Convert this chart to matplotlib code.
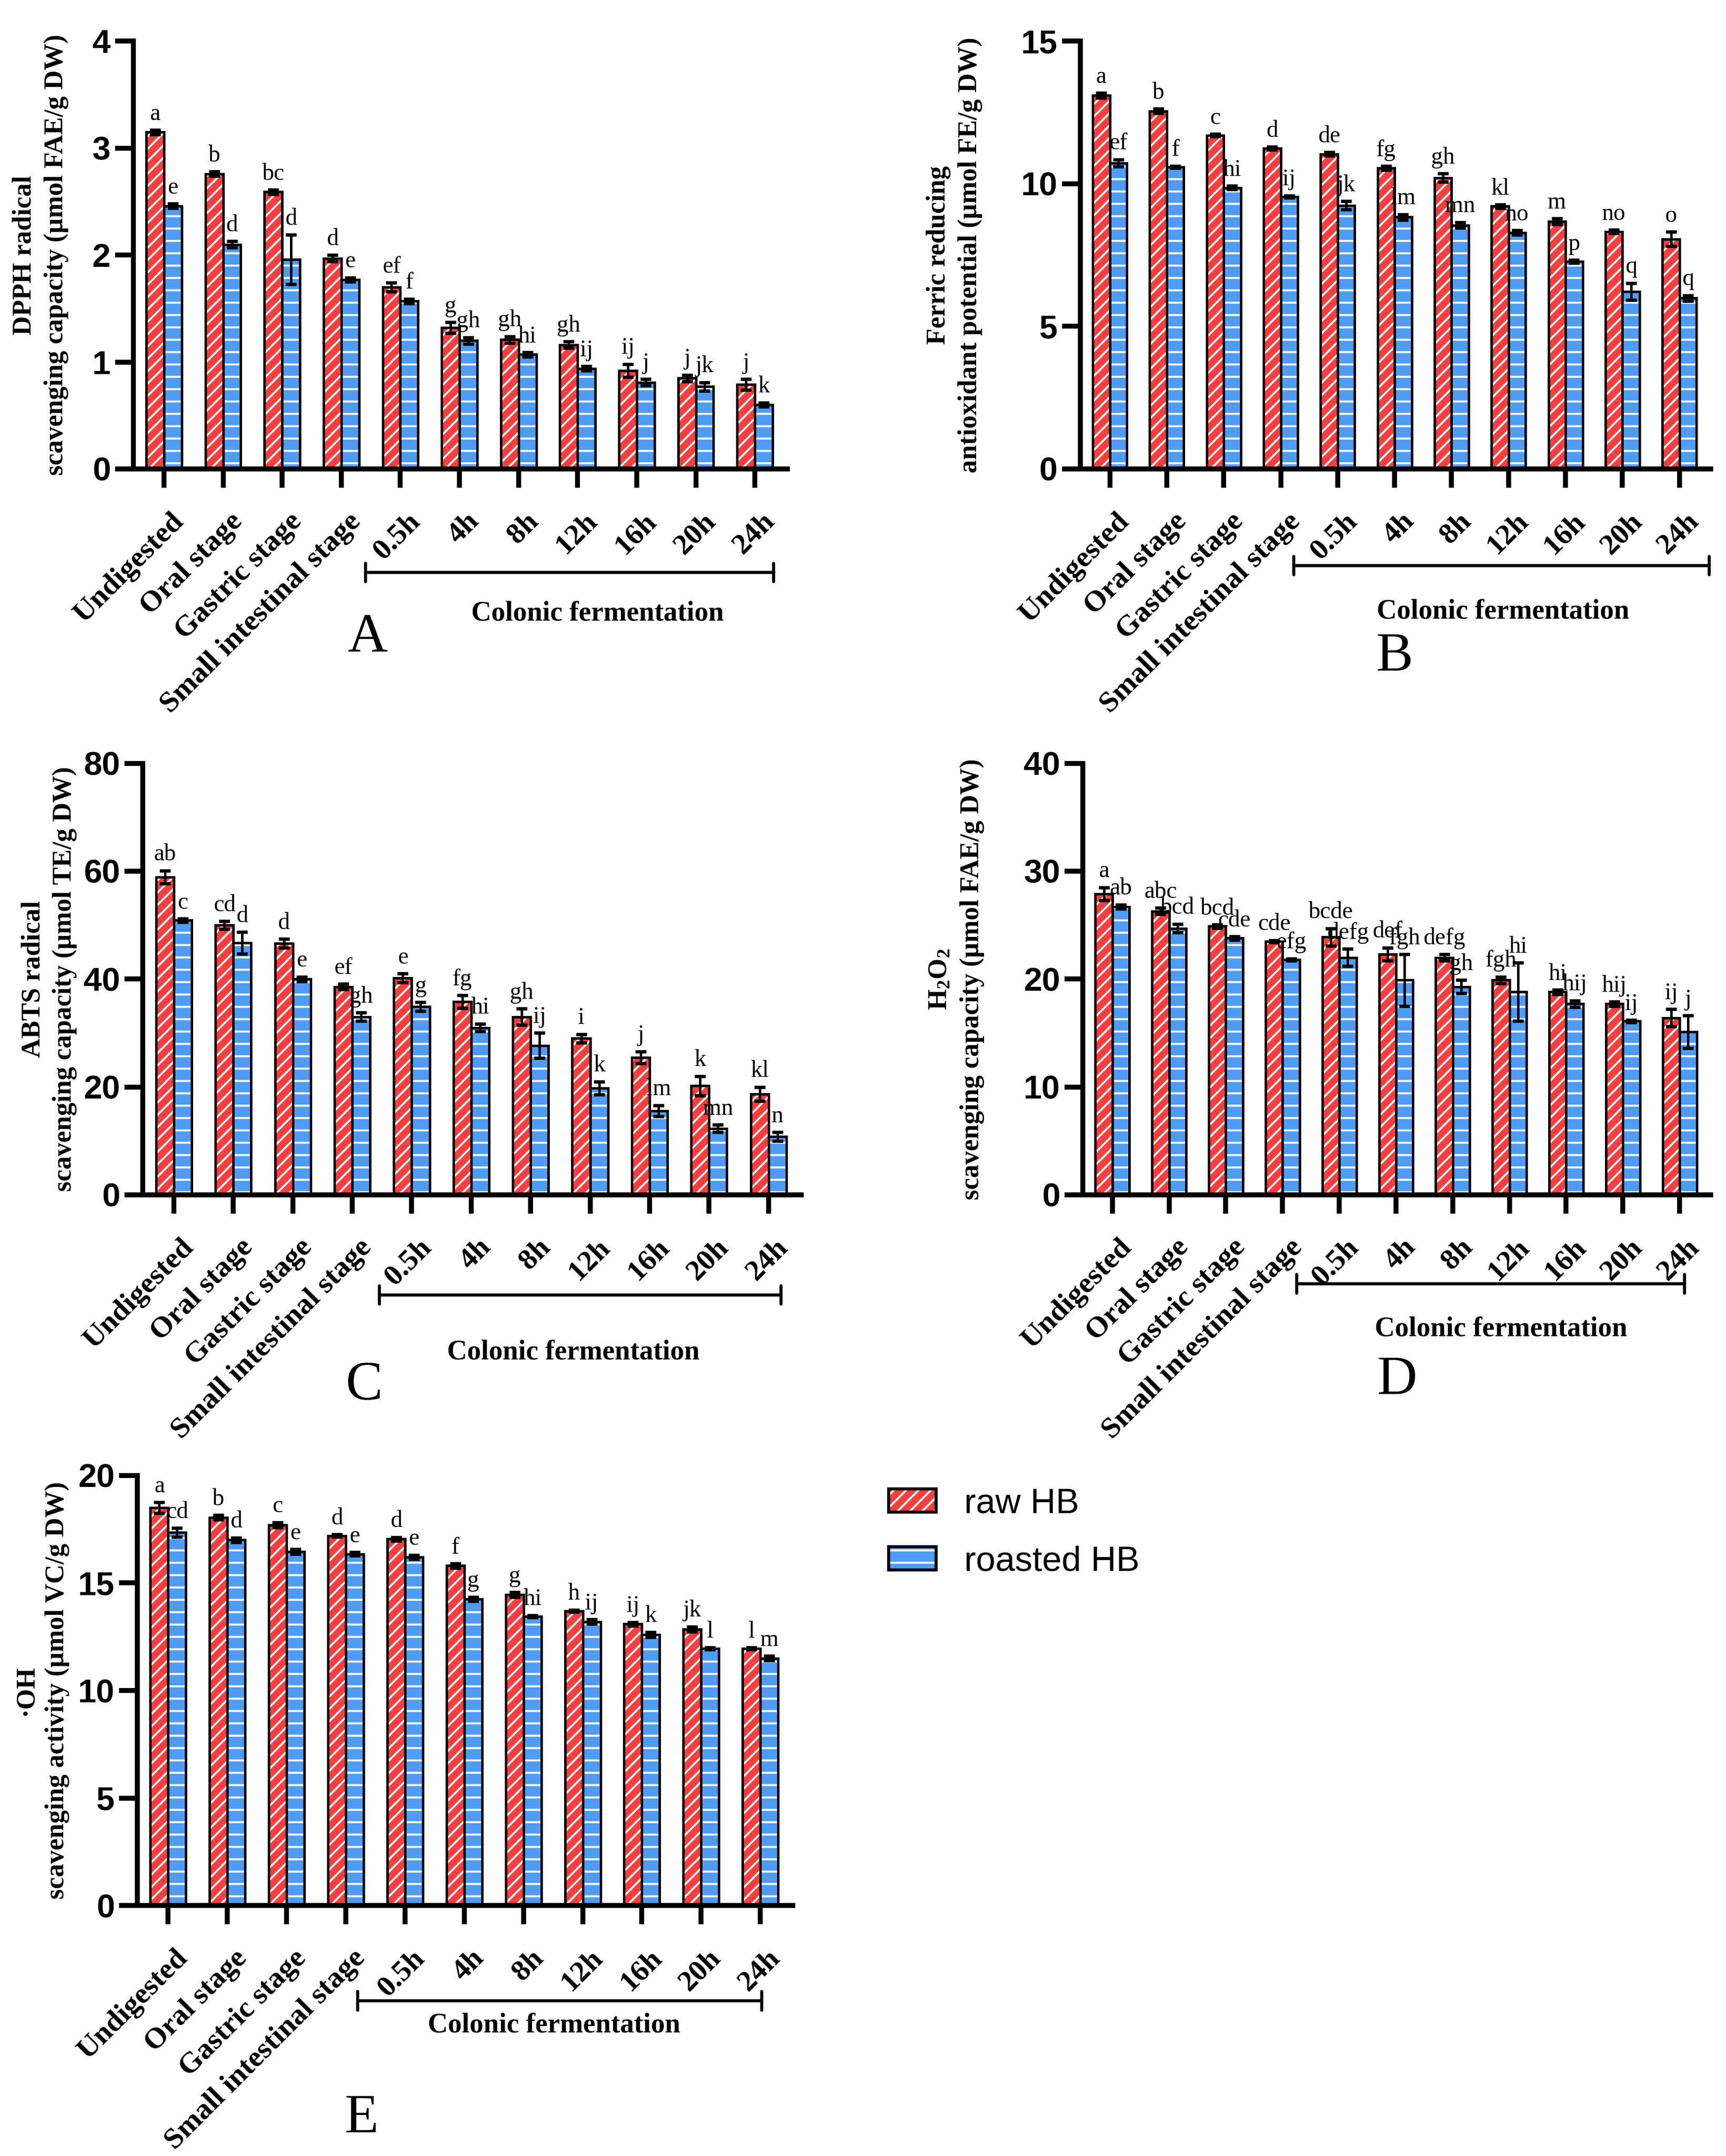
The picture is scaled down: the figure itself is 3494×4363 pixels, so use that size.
import matplotlib
matplotlib.use("Agg")
import matplotlib.pyplot as plt
import matplotlib.transforms as mtransforms
from matplotlib.patches import Patch
from matplotlib.legend_handler import HandlerTuple
import numpy as np

plt.rcParams['hatch.color'] = 'white'
plt.rcParams['hatch.linewidth'] = 0.95
plt.rcParams['mathtext.fontset'] = 'custom'
plt.rcParams['mathtext.rm'] = 'Liberation Serif'
plt.rcParams['mathtext.bf'] = 'Liberation Serif:bold'

RED = '#F83F3F'
BLUE = '#4F9CF6'
SERIF = 'Liberation Serif'
SANS = 'Liberation Sans'

stages = ["Undigested", "Oral stage", "Gastric stage", "Small intestinal stage",
          "0.5h", "4h", "8h", "12h", "16h", "20h", "24h"]

# A - DPPH
dpph_raw = [3.15, 2.76, 2.59, 1.97, 1.70, 1.32, 1.21, 1.16, 0.92, 0.85, 0.79]
dpph_raw_err = [0.02, 0.02, 0.02, 0.03, 0.04, 0.05, 0.03, 0.03, 0.06, 0.03, 0.05]
dpph_roast = [2.46, 2.10, 1.96, 1.77, 1.57, 1.20, 1.07, 0.94, 0.81, 0.77, 0.60]
dpph_roast_err = [0.02, 0.03, 0.23, 0.02, 0.02, 0.03, 0.02, 0.02, 0.03, 0.04, 0.02]
dpph_raw_let = ["a", "b", "bc", "d", "ef", "g", "gh", "gh", "ij", "j", "j"]
dpph_roast_let = ["e", "d", "d", "e", "f", "gh", "hi", "ij", "j", "jk", "k"]

# B - FRAP
frap_raw = [13.1, 12.55, 11.70, 11.24, 11.04, 10.55, 10.21, 9.21, 8.68, 8.32, 8.06]
frap_raw_err = [0.08, 0.08, 0.04, 0.05, 0.06, 0.07, 0.15, 0.06, 0.10, 0.06, 0.25]
frap_roast = [10.73, 10.59, 9.86, 9.55, 9.24, 8.83, 8.55, 8.29, 7.28, 6.22, 5.99]
frap_roast_err = [0.12, 0.04, 0.06, 0.04, 0.15, 0.10, 0.10, 0.08, 0.05, 0.30, 0.10]
frap_raw_let = ["a", "b", "c", "d", "de", "fg", "gh", "kl", "m", "no", "o"]
frap_roast_let = ["ef", "f", "hi", "ij", "jk", "lm", "mn", "no", "p", "q", "q"]

# C - ABTS
abts_raw = [58.9, 50.0, 46.6, 38.6, 40.2, 35.8, 33.0, 29.0, 25.5, 20.2, 18.7]
abts_raw_err = [1.2, 0.7, 0.8, 0.5, 0.8, 1.2, 1.5, 0.8, 1.1, 1.8, 1.3]
abts_roast = [50.9, 46.7, 40.0, 33.0, 34.9, 31.0, 27.7, 19.8, 15.6, 12.3, 10.8]
abts_roast_err = [0.3, 2.0, 0.4, 0.8, 0.8, 0.7, 2.3, 1.2, 1.0, 0.7, 0.8]
abts_raw_let = ["ab", "cd", "d", "ef", "e", "fg", "gh", "i", "j", "k", "kl"]
abts_roast_let = ["c", "d", "e", "gh", "g", "hi", "ij", "k", "lm", "mn", "n"]

# D - H2O2
h2o2_raw = [27.9, 26.3, 24.9, 23.5, 23.9, 22.3, 22.0, 19.9, 18.8, 17.7, 16.4]
h2o2_raw_err = [0.6, 0.3, 0.15, 0.1, 0.8, 0.6, 0.3, 0.3, 0.2, 0.2, 0.8]
h2o2_roast = [26.7, 24.7, 23.8, 21.8, 22.0, 19.9, 19.3, 18.8, 17.7, 16.1, 15.1]
h2o2_roast_err = [0.2, 0.4, 0.15, 0.1, 0.8, 2.4, 0.6, 2.7, 0.3, 0.1, 1.5]
h2o2_raw_let = ["a", "abc", "bcd", "cde", "bcde", "def", "defg", "fgh", "hi", "hij", "ij"]
h2o2_roast_let = ["ab", "bcd", "cde", "efg", "defg", "fgh", "gh", "hi", "hij", "ij", "j"]

# E - OH
oh_raw = [18.5, 18.05, 17.7, 17.2, 17.05, 15.8, 14.45, 13.7, 13.1, 12.85, 11.95]
oh_raw_err = [0.25, 0.1, 0.12, 0.05, 0.08, 0.1, 0.12, 0.05, 0.08, 0.12, 0.05]
oh_roast = [17.35, 17.0, 16.45, 16.35, 16.2, 14.25, 13.45, 13.2, 12.6, 11.95, 11.5]
oh_roast_err = [0.2, 0.1, 0.12, 0.08, 0.1, 0.1, 0.05, 0.1, 0.12, 0.05, 0.1]
oh_raw_let = ["a", "b", "c", "d", "d", "f", "g", "h", "ij", "jk", "l"]
oh_roast_let = ["cd", "d", "e", "e", "e", "g", "hi", "ij", "k", "l", "m"]


def graficarPanel(fig, pos, raw, raw_err, roast, roast_err, raw_let, roast_let,
                  ymax, ystep, ylabel, lab_x, bracket, colonic, letter):
    ax = fig.add_axes(pos)
    x = np.arange(len(stages))
    w = 0.3

    # fill with white hatch first, then the black outline on top
    ax.bar(x - w/2, raw, w, color=RED, hatch='////', linewidth=0, zorder=2)
    ax.bar(x - w/2, raw, w, fill=False, edgecolor='black', linewidth=1.2, zorder=3)
    ax.bar(x + w/2, roast, w, color=BLUE, hatch='--', linewidth=0, zorder=2)
    ax.bar(x + w/2, roast, w, fill=False, edgecolor='black', linewidth=1.2, zorder=3)

    ax.errorbar(x - w/2, raw, yerr=raw_err, fmt='none', ecolor='black',
                elinewidth=1.2, capsize=2.7, capthick=1.6, zorder=4)
    ax.errorbar(x + w/2, roast, yerr=roast_err, fmt='none', ecolor='black',
                elinewidth=1.2, capsize=2.7, capthick=1.6, zorder=4)

    for i in range(len(stages)):
        ax.annotate(raw_let[i], (x[i] - w/2, raw[i] + raw_err[i]), xytext=(0, 2.5),
                    textcoords='offset points', ha='center', va='bottom',
                    fontsize=11.5, family=SERIF, annotation_clip=False)
        ax.annotate(roast_let[i], (x[i] + w/2, roast[i] + roast_err[i]), xytext=(0, 2.5),
                    textcoords='offset points', ha='center', va='bottom',
                    fontsize=11.5, family=SERIF, annotation_clip=False)

    ax.set_xlim(-0.52, 10.55)
    ax.set_ylim(0, ymax)
    ax.set_yticks(np.arange(0, ymax + ystep/2, ystep))
    ax.spines[['top', 'right']].set_visible(False)
    for s in ['left', 'bottom']:
        ax.spines[s].set_linewidth(2.4)
    ax.tick_params(axis='both', direction='out', width=2.4, length=9)
    ax.tick_params(axis='y', pad=2, labelsize=16)
    for lab in ax.get_yticklabels():
        lab.set_fontfamily(SANS)
        lab.set_fontweight('bold')

    ax.set_xticks(x)
    ax.set_xticklabels(stages, rotation=45, ha='right', va='top', rotation_mode='anchor',
                       fontsize=14.5, fontweight='bold', family=SERIF)
    ax.tick_params(axis='x', pad=10)
    offset = mtransforms.ScaledTranslation(3/72, 0, fig.dpi_scale_trans)
    for lab in ax.get_xticklabels():
        lab.set_transform(lab.get_transform() + offset)

    ax.set_ylabel(ylabel, fontsize=13, fontweight='bold', family=SERIF, linespacing=1.35)
    ax.yaxis.set_label_coords(lab_x, 0.5)

    trans = mtransforms.blended_transform_factory(ax.transData, ax.transAxes)
    b0, b1, by = bracket
    ax.annotate('', xy=(b1, by), xytext=(b0, by), xycoords=trans, textcoords=trans,
                arrowprops=dict(arrowstyle='|-|, widthA=0.45, widthB=0.45', lw=1.5,
                                color='black', shrinkA=0, shrinkB=0),
                annotation_clip=False)
    ax.text(colonic[0], colonic[1], 'Colonic fermentation', transform=trans,
            ha='center', va='center', fontsize=13.5, fontweight='bold', family=SERIF)
    ax.text(letter[1], letter[2], letter[0], transform=trans,
            ha='center', va='center', fontsize=27, family=SERIF)
    return ax


fig = plt.figure(figsize=(3494/300, 4363/300))

graficarPanel(fig, [0.0772, 0.7825, 0.3790, 0.1984],
              dpph_raw, dpph_raw_err, dpph_roast, dpph_roast_err, dpph_raw_let, dpph_roast_let,
              4, 1, "DPPH radical\nscavenging capacity (µmol FAE/g DW)", -0.099,
              (3.41, 10.32, -0.242), (7.34, -0.338), ("A", 3.45, -0.397))
graficarPanel(fig, [0.6258, 0.7825, 0.3654, 0.1984],
              frap_raw, frap_raw_err, frap_roast, frap_roast_err, frap_raw_let, frap_roast_let,
              15, 5, "Ferric reducing\nantioxidant potential (µmol FE/g DW)", -0.155,
              (3.23, 10.52, -0.226), (6.9, -0.333), ("B", 5.0, -0.44))
graficarPanel(fig, [0.0828, 0.4458, 0.3814, 0.2002],
              abts_raw, abts_raw_err, abts_roast, abts_roast_err, abts_raw_let, abts_roast_let,
              80, 20, "ABTS radical\nscavenging capacity (µmol TE/g DW)", -0.100,
              (3.46, 10.21, -0.232), (6.72, -0.365), ("C", 3.2, -0.443))
graficarPanel(fig, [0.6274, 0.4458, 0.3638, 0.2002],
              h2o2_raw, h2o2_raw_err, h2o2_roast, h2o2_roast_err, h2o2_raw_let, h2o2_roast_let,
              40, 10, r"$\mathbf{H_2O_2}$" + "\nscavenging capacity (µmol FAE/g DW)", -0.157,
              (3.25, 10.09, -0.206), (6.85, -0.311), ("D", 5.02, -0.43))
graficarPanel(fig, [0.0796, 0.1161, 0.3798, 0.1996],
              oh_raw, oh_raw_err, oh_roast, oh_roast_err, oh_raw_let, oh_roast_let,
              20, 5, "·OH\nscavenging activity (µmol VC/g DW)", -0.103,
              (3.2, 10.02, -0.221), (6.52, -0.278), ("E", 3.27, -0.495))

h_raw = (Patch(facecolor=RED, hatch='////', linewidth=0),
         Patch(facecolor='none', edgecolor='black', linewidth=1.5))
h_roast = (Patch(facecolor=BLUE, hatch='--', linewidth=0),
           Patch(facecolor='none', edgecolor='black', linewidth=1.5))
fig.legend(handles=[h_raw, h_roast], labels=['raw HB', 'roasted HB'],
           handler_map={tuple: HandlerTuple(ndivide=1, pad=0)},
           loc='center left', bbox_to_anchor=(0.515, 0.289), frameon=False,
           prop={'family': SANS, 'size': 17}, handlelength=1.35, handleheight=0.65,
           handletextpad=0.8, labelspacing=0.72, borderpad=0, borderaxespad=0)

fig.savefig('out.png', dpi=300)
